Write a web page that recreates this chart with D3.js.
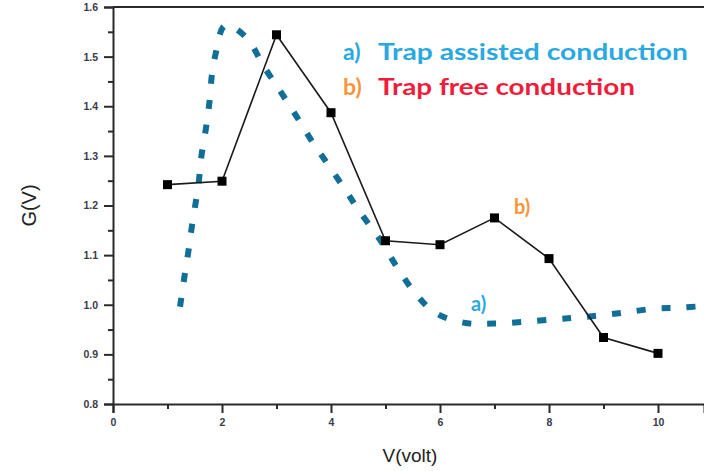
<!DOCTYPE html>
<html>
<head>
<meta charset="utf-8">
<script src="https://cdn.jsdelivr.net/npm/d3@7"></script>
<style>
  html, body { margin: 0; padding: 0; background: #fff; }
  svg { display: block; }
</style>
</head>
<body>
<svg id="chart" width="704" height="471"></svg>
<script>
// Trap free conduction: measured points
const freeV = [1, 2, 3, 4, 5, 6, 7, 8, 9, 10];
const freeG = [1.242, 1.249, 1.544, 1.387, 1.129, 1.121, 1.175, 1.093, 0.934, 0.902];

// Trap assisted conduction: model curve
const assistedV = [1.23, 1.31, 1.38, 1.45, 1.57, 1.62, 1.71, 1.77, 1.82, 1.90, 2.01, 2.10,
                   2.45, 2.78, 3.09, 3.37, 3.66, 3.98, 4.29, 4.53, 4.90, 5.21, 5.54, 5.91,
                   6.43, 6.98, 8.03, 8.71, 9.36, 9.93, 10.39, 10.90];
const assistedG = [0.996, 1.056, 1.105, 1.160, 1.244, 1.298, 1.359, 1.409, 1.468, 1.514, 1.558, 1.564,
                   1.538, 1.478, 1.427, 1.379, 1.328, 1.277, 1.227, 1.187, 1.131, 1.076, 1.024, 0.984,
                   0.964, 0.962, 0.970, 0.976, 0.984, 0.992, 0.994, 0.998];

const xMajorTicks = [0, 2, 4, 6, 8, 10];
const xMinorTicks = [1, 3, 5, 7, 9];
const yMajorTicks = [0.8, 0.9, 1.0, 1.1, 1.2, 1.3, 1.4, 1.5, 1.6];
const yMinorTicks = [0.85, 0.95, 1.05, 1.15, 1.25, 1.35, 1.45, 1.55];

const legendKeys = ["a)", "b)"];
const legendLabels = ["Trap assisted conduction", "Trap free conduction"];

const W = 704, H = 471;
const svg = d3.select("#chart");

const x = d3.scaleLinear().domain([0, 10]).range([113, 658]);
const xEnd = x.invert(W);
x.domain([0, xEnd]).range([113, W]);
const y = d3.scaleLinear().domain([0.8, 1.6]).range([404, 7]);

const axisColor = "#2a2a2a";
const tickFont = "Arial, 'Liberation Sans', sans-serif";

// top frame line
svg.append("line")
  .attr("x1", x(0)).attr("x2", W)
  .attr("y1", y(1.6)).attr("y2", y(1.6))
  .attr("stroke", axisColor).attr("stroke-width", 2);

// x axis
const gx = svg.append("g").attr("transform", `translate(0,${y(0.8)})`);
gx.call(d3.axisBottom(x).tickValues(xMajorTicks).tickSize(9).tickPadding(6).tickFormat(d3.format("d")));
gx.append("g").call(d3.axisBottom(x).tickValues(xMinorTicks).tickSize(5).tickFormat(""))
  .select(".domain").remove();

// y axis
const gy = svg.append("g").attr("transform", `translate(${x(0)},0)`);
gy.call(d3.axisLeft(y).tickValues(yMajorTicks).tickSize(9).tickPadding(6).tickFormat(d3.format(".1f")));
gy.append("g").call(d3.axisLeft(y).tickValues(yMinorTicks).tickSize(5).tickFormat(""))
  .select(".domain").remove();

svg.selectAll(".domain").attr("stroke", axisColor).attr("stroke-width", 2);
svg.selectAll(".tick line").attr("stroke", axisColor).attr("stroke-width", 2);
svg.selectAll(".tick text")
  .attr("font-family", tickFont).attr("font-size", 10.5).attr("font-weight", "bold")
  .attr("fill", "#3a3a4a");

// axis titles
svg.append("text")
  .attr("transform", `translate(36,${y(1.2)}) rotate(-90)`)
  .attr("text-anchor", "middle")
  .attr("font-family", tickFont).attr("font-size", 20)
  .attr("fill", "#222").text("G(V)");

svg.append("text")
  .attr("x", 410).attr("y", 462)
  .attr("text-anchor", "middle")
  .attr("font-family", tickFont).attr("font-size", 19)
  .attr("fill", "#222").text("V(volt)");

// trap assisted curve (thick dotted)
const assisted = assistedV.map((v, i) => [v, assistedG[i]]);
svg.append("clipPath").attr("id", "plot-clip")
  .append("rect").attr("x", x(0)).attr("y", 0).attr("width", W - x(0)).attr("height", y(0.8));
svg.append("path")
  .datum(assisted)
  .attr("clip-path", "url(#plot-clip)")
  .attr("d", d3.line().x(d => x(d[0])).y(d => y(d[1])).curve(d3.curveCatmullRom.alpha(0.5)))
  .attr("fill", "none")
  .attr("stroke", "#0f6f98")
  .attr("stroke-width", 6)
  .attr("stroke-dasharray", "9,16");

// trap free data: line + square markers
const free = freeV.map((v, i) => [v, freeG[i]]);
svg.append("path")
  .datum(free)
  .attr("d", d3.line().x(d => x(d[0])).y(d => y(d[1])))
  .attr("fill", "none")
  .attr("stroke", "#1a1a1a")
  .attr("stroke-width", 1.6);

svg.append("g").selectAll("rect")
  .data(free)
  .join("rect")
  .attr("x", d => x(d[0]) - 4.5)
  .attr("y", d => y(d[1]) - 4.5)
  .attr("width", 9).attr("height", 9)
  .attr("fill", "#000");

// legend
const legendFont = "Lato, 'Open Sans', sans-serif";
const keyColors = ["#2aa8e0", "#f7943c"];
const labelColors = ["#2aa8e0", "#ee1d3b"];
const legendBase = [60, 95];
const labelWidths = [310, 257];
legendKeys.forEach((k, i) => {
  svg.append("text")
    .attr("x", 343).attr("y", legendBase[i])
    .attr("font-family", legendFont).attr("font-weight", "bold").attr("font-size", 23)
    .attr("fill", keyColors[i]).text(k);
  svg.append("text")
    .attr("x", 378).attr("y", legendBase[i])
    .attr("font-family", legendFont).attr("font-weight", "bold").attr("font-size", 23)
    .attr("textLength", labelWidths[i]).attr("lengthAdjust", "spacingAndGlyphs")
    .attr("fill", labelColors[i]).text(legendLabels[i]);
});

// curve annotations
svg.append("text")
  .attr("x", 514).attr("y", 214)
  .attr("font-family", legendFont).attr("font-weight", "bold").attr("font-size", 20)
  .attr("fill", keyColors[1]).text("b)");
svg.append("text")
  .attr("x", 471).attr("y", 311)
  .attr("font-family", legendFont).attr("font-weight", "bold").attr("font-size", 20)
  .attr("fill", keyColors[0]).text("a)");
</script>
</body>
</html>
